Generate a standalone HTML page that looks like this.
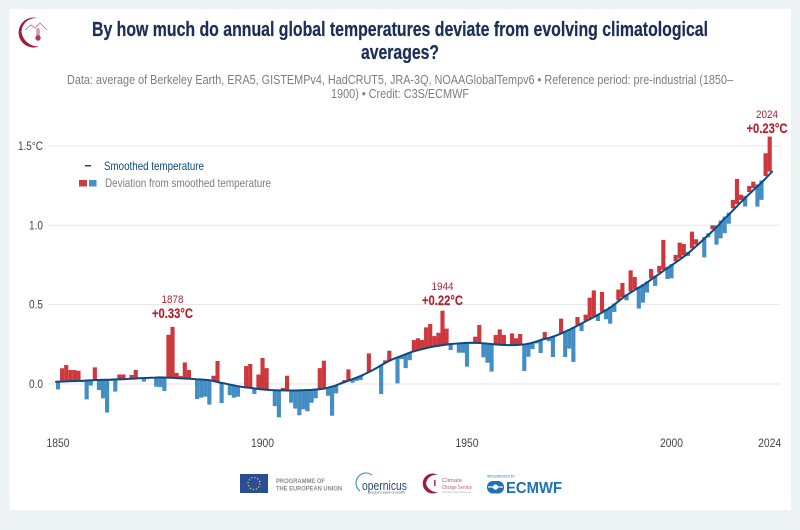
<!DOCTYPE html>
<html lang="en">
<head>
<meta charset="utf-8">
<title>Annual global temperature deviation</title>
<style>
html,body{margin:0;padding:0;background:#edf2f5;width:800px;height:530px;overflow:hidden}
svg{display:block;font-family:"Liberation Sans",sans-serif}
</style>
</head>
<body>
<svg id="chart" width="800" height="530" viewBox="0 0 800 530" xmlns="http://www.w3.org/2000/svg">
  <rect x="0" y="0" width="800" height="530" fill="#edf2f5"/>
  <rect x="9.5" y="9" width="781.5" height="501" fill="#ffffff"/>

  <g>
    <path d="M39 18.5 A15 15 0 1 0 39 46.5 A17 17 0 0 1 21.5 32 A14 14 0 0 1 39 18.5 Z" fill="#a01c3a"/>
    <path d="M25 30 L31 25 L35 28 L40 23 L47 30" fill="none" stroke="#b0566c" stroke-width="0.7"/>
    <rect x="36.2" y="28" width="3.6" height="10" rx="1.8" fill="#d79aa8"/>
    <circle cx="38" cy="38" r="2.7" fill="#b03a55"/>
  </g>

  <g font-weight="700" fill="#1c2f57" stroke="#1c2f57" stroke-width="0.25" font-size="20">
    <text x="92" y="36" textLength="616" lengthAdjust="spacingAndGlyphs">By how much do annual global temperatures deviate from evolving climatological</text>
    <text x="361" y="59" textLength="78" lengthAdjust="spacingAndGlyphs">averages?</text>
  </g>
  <g fill="#7d7d7d" font-size="13">
    <text x="67" y="84" textLength="666" lengthAdjust="spacingAndGlyphs">Data: average of Berkeley Earth, ERA5, GISTEMPv4, HadCRUT5, JRA-3Q, NOAAGlobalTempv6 • Reference period: pre-industrial (1850–</text>
    <text x="331" y="98" textLength="138" lengthAdjust="spacingAndGlyphs">1900) • Credit: C3S/ECMWF</text>
  </g>

  <g id="grid"></g>
  <g id="bars"></g>
  <path id="smooth-line" fill="none" stroke="#0b4a80" stroke-width="2" stroke-linejoin="round" stroke-linecap="round"/>
  <g id="axis"></g>

  <g>
    <rect x="85" y="165" width="6" height="1.5" fill="#0b4a80"/>
    <text x="104" y="170" font-size="12" fill="#0d4a7e" textLength="100" lengthAdjust="spacingAndGlyphs">Smoothed temperature</text>
    <rect x="79" y="180" width="8" height="6.5" fill="#cf3c40"/>
    <rect x="89" y="180" width="7.5" height="6.5" fill="#4a90c4"/>
    <text x="105" y="187" font-size="12" fill="#7d7d7d" textLength="166" lengthAdjust="spacingAndGlyphs">Deviation from smoothed temperature</text>
  </g>

  <g fill="#b5202e" text-anchor="middle">
    <text x="172.5" y="303" font-size="11" textLength="22" lengthAdjust="spacingAndGlyphs">1878</text>
    <text x="172.5" y="318" font-size="13.5" font-weight="700" stroke="#b5202e" stroke-width="0.15" textLength="41" lengthAdjust="spacingAndGlyphs">+0.33°C</text>
    <text x="442.5" y="290" font-size="11" textLength="22" lengthAdjust="spacingAndGlyphs">1944</text>
    <text x="442.5" y="305" font-size="13.5" font-weight="700" stroke="#b5202e" stroke-width="0.15" textLength="41" lengthAdjust="spacingAndGlyphs">+0.22°C</text>
    <text x="767" y="118" font-size="11" textLength="22" lengthAdjust="spacingAndGlyphs">2024</text>
    <text x="767" y="133" font-size="13.5" font-weight="700" stroke="#b5202e" stroke-width="0.15" textLength="41" lengthAdjust="spacingAndGlyphs">+0.23°C</text>
  </g>

  <g>
    <rect x="240" y="474" width="28" height="19" fill="#2a4d96"/>
    <circle cx="254" cy="483.5" r="6" fill="none" stroke="#e3c83c" stroke-width="1.3" stroke-dasharray="1.3 1.85"/>
    <g fill="#8b8b8b" font-size="6.2" font-weight="700">
      <text x="276" y="483" textLength="49" lengthAdjust="spacingAndGlyphs">PROGRAMME OF</text>
      <text x="276" y="490.5" textLength="66" lengthAdjust="spacingAndGlyphs">THE EUROPEAN UNION</text>
    </g>
  </g>
  <g>
    <path d="M372 475 A10 10 0 0 0 360 491" fill="none" stroke="#3e8fc8" stroke-width="1.1"/>
    <text x="362" y="490" font-size="13" fill="#2a4a78" textLength="45" lengthAdjust="spacingAndGlyphs">opernicus</text>
    <text x="368" y="493.5" font-size="3.5" fill="#2a6aa8" textLength="37" lengthAdjust="spacingAndGlyphs">Europe's eyes on Earth</text>
  </g>
  <g>
    <path d="M438 475 A10 10 0 1 0 438 492 A11 11 0 0 1 426 483.5 A10 10 0 0 1 438 475 Z" fill="#a01c3a"/>
    <rect x="434" y="480" width="1.6" height="6" fill="#b03a55"/>
    <g fill="#b0607a" font-size="5.6">
      <text x="442" y="482" textLength="20" lengthAdjust="spacingAndGlyphs">Climate</text>
      <text x="442" y="489" textLength="30" lengthAdjust="spacingAndGlyphs">Change Service</text>
    </g>
    <text x="442" y="493" font-size="3" fill="#aaaaaa" textLength="29" lengthAdjust="spacingAndGlyphs">climate.copernicus.eu</text>
  </g>
  <g>
    <text x="487" y="477.5" font-size="3.6" fill="#1f70b5" textLength="28" lengthAdjust="spacingAndGlyphs">IMPLEMENTED BY</text>
    <rect x="487" y="481" width="17" height="12.5" rx="6" fill="#1f70b5"/>
    <path d="M488 487 H503" stroke="#ffffff" stroke-width="1.2"/>
    <circle cx="495.5" cy="487" r="2.6" fill="#ffffff"/>
    <text x="506" y="493" font-size="15.5" font-weight="700" fill="#1f70b5" textLength="56" lengthAdjust="spacingAndGlyphs">ECMWF</text>
  </g>

<script>
const startYear = 1850;
const annual = [
-0.034,0.099,0.12,0.088,0.088,0.084,0.012,-0.097,-0.01,0.105,
-0.038,-0.09,-0.18,0.02,-0.048,0.06,0.06,0.03,0.057,0.088,
0.036,0.015,0.038,0.039,-0.017,-0.02,-0.044,0.31,0.36,0.07,
0.05,0.136,0.088,0.035,-0.095,-0.086,-0.08,-0.13,0.052,0.145,
-0.12,0.0,-0.07,-0.086,-0.08,-0.017,0.113,0.126,-0.063,0.06,
0.164,0.1,-0.038,-0.139,-0.21,-0.025,0.052,-0.118,-0.155,-0.197,
-0.16,-0.172,-0.118,-0.09,0.1,0.147,-0.074,-0.2,-0.059,-0.004,
0.025,0.092,0.008,0.02,0.025,0.062,0.193,0.088,0.102,-0.063,
0.149,0.21,0.158,0.004,0.157,0.1,0.15,0.277,0.288,0.277,
0.357,0.378,0.302,0.323,0.462,0.349,0.214,0.254,0.197,0.197,
0.109,0.26,0.298,0.372,0.168,0.134,0.078,0.309,0.344,0.309,
0.245,0.319,0.288,0.315,0.082,0.172,0.22,0.256,0.195,0.328,
0.27,0.17,0.307,0.412,0.17,0.223,0.139,0.422,0.334,0.437,
0.544,0.59,0.397,0.58,0.408,0.38,0.454,0.595,0.637,0.527,
0.716,0.674,0.475,0.513,0.576,0.725,0.618,0.744,0.908,0.662,
0.666,0.813,0.891,0.882,0.807,0.96,0.912,0.90,0.798,0.924,
1.0,0.878,0.918,0.95,1.01,1.16,1.292,1.193,1.118,1.248,
1.275,1.118,1.16,1.454,1.559
];
const smoothed = [
0.014,0.015,0.016,0.017,0.018,0.019,0.020,0.021,0.023,0.024,
0.025,0.026,0.027,0.027,0.028,0.029,0.030,0.031,0.033,0.034,
0.036,0.037,0.038,0.039,0.040,0.042,0.041,0.040,0.039,0.038,
0.036,0.035,0.034,0.032,0.030,0.029,0.027,0.025,0.020,0.014,
0.008,0.003,-0.002,-0.008,-0.013,-0.017,-0.021,-0.024,-0.027,-0.031,
-0.034,-0.036,-0.038,-0.039,-0.040,-0.040,-0.041,-0.041,-0.041,-0.040,
-0.039,-0.038,-0.037,-0.035,-0.033,-0.030,-0.024,-0.017,-0.010,0.002,
0.011,0.020,0.030,0.040,0.050,0.062,0.075,0.088,0.102,0.118,
0.132,0.146,0.158,0.168,0.178,0.188,0.198,0.206,0.213,0.220,
0.226,0.232,0.237,0.241,0.245,0.249,0.252,0.254,0.256,0.258,
0.259,0.260,0.259,0.258,0.256,0.254,0.251,0.249,0.247,0.246,
0.245,0.245,0.246,0.248,0.250,0.255,0.262,0.270,0.279,0.285,
0.292,0.300,0.310,0.321,0.333,0.345,0.358,0.372,0.385,0.399,
0.412,0.426,0.440,0.455,0.470,0.487,0.507,0.528,0.548,0.565,
0.582,0.598,0.613,0.628,0.646,0.665,0.683,0.701,0.720,0.738,
0.755,0.773,0.792,0.811,0.832,0.855,0.878,0.902,0.926,0.950,
0.975,1.000,1.030,1.055,1.080,1.107,1.134,1.160,1.185,1.210,
1.235,1.258,1.283,1.310,1.338
];
const xTickYears = [1850,1900,1950,2000,2024];
const yTickValues = [0,0.5,1,1.5];
const yTickLabels = ["0.0","0.5","1.0","1.5°C"];

const NS = 'http://www.w3.org/2000/svg';
const xScale = function (year) { return 58 + (year - 1850) * 4.09; };
const yScale = function (v) { return 384 - v * 158.7; };
const lineX = function (i) { return 56 + i * (716 / (annual.length - 1)); };

const gridGroup = document.getElementById('grid');
const barGroup = document.getElementById('bars');
const axisGroup = document.getElementById('axis');

yTickValues.forEach(function (v, i) {
  const line = document.createElementNS(NS, 'line');
  
  
  line.setAttribute('x1', 48);
  line.setAttribute('x2', 780);
  line.setAttribute('y1', yScale(v));
  line.setAttribute('y2', yScale(v));
  line.setAttribute('stroke', '#e6e6e6');
  line.setAttribute('stroke-width', 1);
  gridGroup.appendChild(line);
  const label = document.createElementNS(NS, 'text');
  
  
  label.setAttribute('x', 43);
  label.setAttribute('y', yScale(v) + 4);
  label.setAttribute('text-anchor', 'end');
  label.setAttribute('font-size', 12);
  label.setAttribute('fill', '#444444');
  label.setAttribute('textLength', yTickLabels[i].length > 3 ? 25 : 14);
  label.setAttribute('lengthAdjust', 'spacingAndGlyphs');
  label.textContent = yTickLabels[i];
  axisGroup.appendChild(label);
});

xTickYears.forEach(function (year) {
  const label = document.createElementNS(NS, 'text');
  
  
  label.setAttribute('x', xScale(year));
  label.setAttribute('y', 447);
  label.setAttribute('text-anchor', 'middle');
  label.setAttribute('font-size', 12);
  label.setAttribute('fill', '#444444');
  label.setAttribute('textLength', 23);
  label.setAttribute('lengthAdjust', 'spacingAndGlyphs');
  label.textContent = year;
  axisGroup.appendChild(label);
});

annual.forEach(function (value, i) {
  const base = smoothed[i];
  if (Math.abs(value - base) < 0.0005) return;
  const top = yScale(Math.max(value, base));
  const bottom = yScale(Math.min(value, base));
  const bar = document.createElementNS(NS, 'rect');
  
  
  bar.setAttribute('x', xScale(startYear + i) - 2.05);
  bar.setAttribute('y', top);
  bar.setAttribute('width', 4.15);
  bar.setAttribute('height', bottom - top);
  bar.setAttribute('fill', value > base ? '#ce383c' : '#458ec3');
  barGroup.appendChild(bar);
});

document.getElementById('smooth-line').setAttribute('d', smoothed.map(function (v, i) {
  return (i ? 'L' : 'M') + lineX(i).toFixed(2) + ' ' + yScale(v).toFixed(2);
}).join(' '));
</script>
</svg>
</body>
</html>
